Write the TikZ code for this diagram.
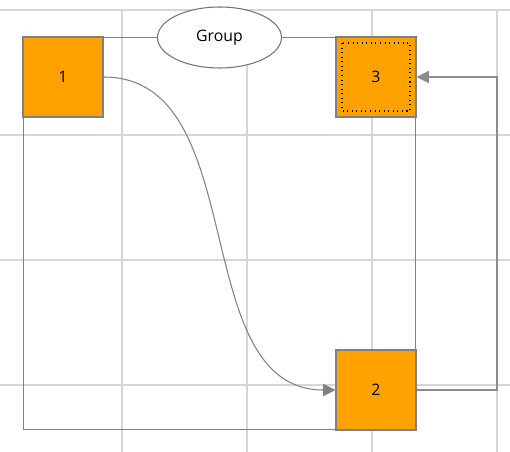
\documentclass[tikz,border=0pt]{standalone}
\usepackage{fontspec}
\setmainfont{Open Sans}
\usetikzlibrary{arrows.meta,shapes.geometric}

\begin{document}
\begin{tikzpicture}[x=0.02cm,y=-0.02cm,
    font=\fontsize{9}{11}\selectfont,
    gridline/.style={draw=black!16,line width=0.6pt},
    grp/.style={draw=black!50,line width=0.6pt,minimum width=7.86cm,minimum height=7.86cm,inner sep=0pt},
    grptitle/.style={ellipse,draw=black!55,fill=white,line width=0.6pt,minimum width=2.48cm,minimum height=1.22cm,inner sep=0pt},
    box/.style={draw=black!50,fill=orange!70!yellow!98!red,line width=0.6pt,minimum size=1.6cm,inner sep=0pt},
    link/.style={draw=black!50,line width=0.6pt,-{Triangle[length=7pt,width=7pt]}}]
        \useasboundingbox (0,0) rectangle (510,452);
        % grid
        \foreach \x in {122,247,372,497}
            \draw[gridline] (\x,10) -- (\x,452);
        \foreach \y in {10,135,260,385}
            \draw[gridline] (0,\y) -- (510,\y);
        % group
        \node[grp] (group) at (219.5,233.5) {};
        \node[grptitle] (title) at (219.5,37.5) {Group};
        % members
        \node[box] (n1) at (63,77) {1};
        \node[box] (n3) at (376,77) {3};
        \node[box] (n2) at (376,390) {2};
        \draw[black,dotted,line width=0.6pt] (342,43) rectangle (410,111);
        % links
        \draw[link] (n1.east) .. controls +(150,0) and +(-150,0) .. (n2.west);
        \coordinate (turn) at (497,390);
        \draw[link,draw=black!45] (n2.east) -- (turn) |- (n3.east);
\end{tikzpicture}
\end{document}
